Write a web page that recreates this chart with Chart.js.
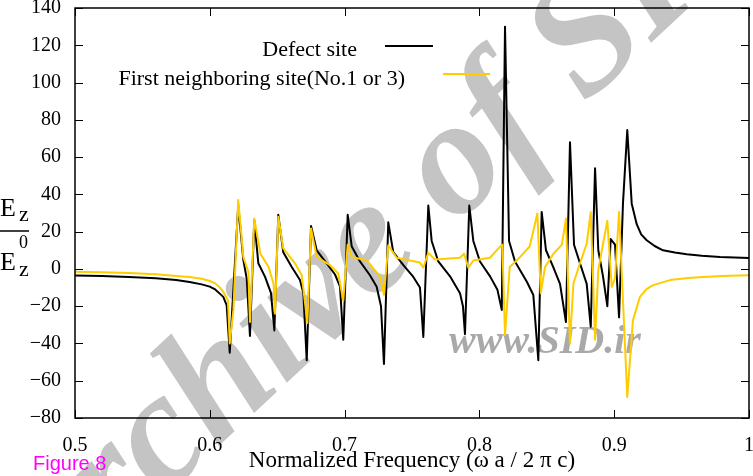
<!DOCTYPE html>
<html>
<head>
<meta charset="utf-8">
<script src="https://cdn.jsdelivr.net/npm/chart.js@4.4.1/dist/chart.umd.min.js"></script>
<style>
  html, body { margin: 0; padding: 0; background: #fff; }
  #wrap { position: relative; width: 753px; height: 476px; }
</style>
</head>
<body>
<div id="wrap"><canvas id="c" width="753" height="476"></canvas></div>
<script>
// Defect site (black)
const defectFreq = [0.5, 0.52, 0.54, 0.56, 0.575, 0.585, 0.594, 0.6, 0.604, 0.607, 0.61, 0.6125, 0.6148, 0.6211, 0.6249, 0.6274, 0.6298,
  0.633, 0.636, 0.641, 0.6454, 0.6479, 0.6508, 0.6545, 0.6608, 0.6669, 0.6694, 0.6719, 0.6751, 0.6793, 0.6867, 0.6929,
  0.6966, 0.699, 0.7023, 0.7053, 0.7114, 0.7188, 0.7238, 0.727, 0.7292, 0.7324, 0.7361, 0.7436, 0.751, 0.7559, 0.7584,
  0.7621, 0.7646, 0.7695, 0.7782, 0.7856, 0.7878, 0.7893, 0.7925, 0.7955, 0.8004, 0.8079, 0.8133, 0.8166, 0.819, 0.822,
  0.8264, 0.8353, 0.84, 0.8437, 0.8462, 0.8494, 0.8548, 0.8598, 0.8642, 0.8672, 0.8702, 0.8746, 0.8796, 0.8826, 0.8858,
  0.8882, 0.8917, 0.8949, 0.8974, 0.9006, 0.9036, 0.9065, 0.9097, 0.913, 0.9167, 0.92, 0.9241, 0.93, 0.9362, 0.945, 0.9538, 0.965, 0.9785, 1.0];
const defectEz = [-3.5, -3.8, -4.3, -5, -6, -7, -8.3, -9.5, -11, -13, -15, -19.5, -45, 34, 4.7, -5.2, -36,
  26, 3, -4.3, -13, -33, 29, 9, 1, -6, -13, -49, 23, 10, 3, -3,
  -9.5, -38, 29, 12, 4, -3.4, -9.6, -20, -51, 25, 9, 2, -4.3, -10, -36.5,
  34, 15, 4, -4, -13, -20, -35, 34, 15, 4, -4, -11, -22, 130, 15,
  4, -7, -14, -49, 30.6, 10, 1, -8, -28.5, 68, 13, 3, -8, -31, 54,
  10, -4, -20, 16, 13, -26, 35, 74.5, 35, 24, 18.5, 15.4, 12.3, 10, 8.8, 7.9, 7.1, 6.4, 5.9];

// First neighboring site (yellow)
const neighFreq = [0.5, 0.52, 0.54, 0.56, 0.575, 0.585, 0.594, 0.6, 0.604, 0.607, 0.61, 0.6135, 0.6148, 0.6175, 0.6211, 0.6249, 0.6286,
  0.6298, 0.633, 0.6375, 0.6436, 0.6473, 0.6484, 0.6508, 0.6545, 0.6632, 0.6682, 0.6724, 0.6751, 0.6793, 0.6892, 0.6953,
  0.699, 0.7023, 0.7053, 0.7164, 0.7263, 0.7292, 0.7324, 0.7386, 0.7559, 0.7584, 0.7621, 0.7671, 0.7856, 0.7886, 0.7918,
  0.7955, 0.8079, 0.8153, 0.817, 0.819, 0.8225, 0.8284, 0.8373, 0.843, 0.8455, 0.8487, 0.8548, 0.8612, 0.8642, 0.8672,
  0.8697, 0.8746, 0.8796, 0.8826, 0.8858, 0.8882, 0.8917, 0.8949, 0.8982, 0.9006, 0.9036, 0.9097, 0.9139, 0.9191, 0.924, 0.9288,
  0.9414, 0.955, 0.9659, 0.98, 1.0];
const neighEz = [-1.5, -1.8, -2.2, -2.9, -3.8, -4.4, -5.3, -6.5, -7.8, -9.6, -12.3, -17, -40, -22, 37, 6.4, -1.6,
  -28.5, 27, 8.2, 1, -8, -24, 28, 11, 3, -3.4, -29, 21.7, 6.4, 2, -2.5,
  -17, 13, 6.4, 4.7, -4.3, -14, 12.7, 6, 3.4, 0.7, 8.6, 5, 6, 8.2, 0.7,
  4.5, 6, 12, 13, -35.6, 1, 5, 12, 29.7, -13, 1, 8, 13, 27, -40,
  -8, 3, 13.5, 30.6, -38, -0.5, 13.5, 25.8, -9.7, -5, 30.6, -68.7, -27.6, -15, -10.8, -8.7,
  -6, -4.9, -4.3, -3.8, -3.4];

const xTicks = [0.5, 0.6, 0.7, 0.8, 0.9, 1];
const yTicks = [-80, -60, -40, -20, 0, 20, 40, 60, 80, 100, 120, 140];

const serif = '"Liberation Serif", "Times New Roman", serif';

const toPoints = (xs, ys) => xs.map((x, i) => ({ x: x, y: ys[i] }));

// gray "Archive of SID" watermark, behind everything
const watermark = {
  id: 'watermark',
  beforeDraw(chart) {
    const ctx = chart.ctx;
    ctx.save();
    ctx.fillStyle = '#c4c4c4';
    ctx.font = 'italic bold 165px ' + serif;
    ctx.translate(163, 498);
    ctx.rotate(-43 * Math.PI / 180);
    const lead = ctx.measureText('Ar').width;
    ctx.fillText('Archive of SID', -lead, 0);
    ctx.restore();

    ctx.save();
    ctx.fillStyle = '#a9a9a9';
    ctx.font = 'italic bold 40px ' + serif;
    ctx.fillText('www.SID.ir', 449, 353);
    ctx.restore();
  }
};

// border, inward ticks on all four sides, legend and y label
const frame = {
  id: 'frame',
  afterDatasetsDraw(chart) {
    const ctx = chart.ctx;
    const a = chart.chartArea;
    const xs = chart.scales.x, ys = chart.scales.y;
    ctx.save();
    ctx.strokeStyle = '#000';
    ctx.lineWidth = 1;
    ctx.beginPath();
    xTicks.forEach(v => {
      const px = Math.round(xs.getPixelForValue(v)) + 0.5;
      ctx.moveTo(px, a.bottom); ctx.lineTo(px, a.bottom - 8);
      ctx.moveTo(px, a.top); ctx.lineTo(px, a.top + 8);
    });
    yTicks.forEach(v => {
      const py = Math.round(ys.getPixelForValue(v)) + 0.5;
      ctx.moveTo(a.left, py); ctx.lineTo(a.left + 8, py);
      ctx.moveTo(a.right, py); ctx.lineTo(a.right - 8, py);
    });
    ctx.stroke();
    ctx.lineWidth = 1.5;
    ctx.strokeRect(a.left, a.top, a.right - a.left, a.bottom - a.top);

    // legend
    ctx.font = '22px ' + serif;
    ctx.fillStyle = '#000';
    ctx.textAlign = 'right';
    ctx.textBaseline = 'alphabetic';
    const ds = chart.data.datasets;
    ctx.fillText(ds[0].label, 357, 56);
    ctx.fillText(ds[1].label, 405, 85);
    ctx.lineWidth = 2;
    ctx.strokeStyle = ds[0].borderColor;
    ctx.beginPath(); ctx.moveTo(385, 46); ctx.lineTo(433, 46); ctx.stroke();
    ctx.strokeStyle = ds[1].borderColor;
    ctx.beginPath(); ctx.moveTo(443, 74); ctx.lineTo(490, 74); ctx.stroke();

    // y label  Ez / Ez0
    ctx.textAlign = 'left';
    ctx.font = '26px ' + serif;
    ctx.fillText('E', 0, 216);
    ctx.fillText('E', 0, 270);
    ctx.font = '22px ' + serif;
    ctx.fillText('z', 19, 221);
    ctx.fillText('z', 19, 276);
    ctx.font = '18px ' + serif;
    ctx.fillText('0', 19, 248);
    ctx.lineWidth = 1.5;
    ctx.strokeStyle = '#000';
    ctx.beginPath(); ctx.moveTo(0, 231); ctx.lineTo(29, 231); ctx.stroke();

    // figure tag
    ctx.fillStyle = '#ff00ff';
    ctx.font = '20px "Liberation Sans", Arial, sans-serif';
    ctx.fillText('Figure 8', 33, 470);
    ctx.restore();
  }
};

new Chart(document.getElementById('c'), {
  type: 'line',
  data: {
    datasets: [
      {
        label: 'Defect site',
        data: toPoints(defectFreq, defectEz),
        borderColor: '#000000',
        borderWidth: 2,
        pointRadius: 0,
        tension: 0,
        borderJoinStyle: 'round',
        order: 2
      },
      {
        label: 'First neighboring site(No.1 or 3)',
        data: toPoints(neighFreq, neighEz),
        borderColor: '#ffcc00',
        borderWidth: 2,
        pointRadius: 0,
        tension: 0,
        borderJoinStyle: 'round',
        order: 1
      }
    ]
  },
  options: {
    responsive: false,
    animation: false,
    events: [],
    layout: { padding: { top: 8, right: 4, left: 0, bottom: 0 } },
    plugins: { legend: { display: false }, tooltip: { enabled: false } },
    scales: {
      x: {
        type: 'linear',
        min: 0.5,
        max: 1,
        grid: { display: false },
        border: { display: false },
        afterBuildTicks: s => { s.ticks = xTicks.map(v => ({ value: v })); },
        afterFit: s => { s.height = 58; s.paddingLeft = 0; s.paddingRight = 0; },
        ticks: {
          color: '#000',
          padding: 8,
          maxRotation: 0,
          font: { family: serif, size: 20 },
          callback: v => String(Number(v.toFixed(1)))
        },
        title: {
          display: true,
          text: 'Normalized Frequency (ω a / 2 π c)',
          color: '#000',
          font: { family: serif, size: 23 },
          padding: { top: 0, bottom: 1 }
        }
      },
      y: {
        min: -80,
        max: 140,
        grid: { display: false },
        border: { display: false },
        afterBuildTicks: s => { s.ticks = yTicks.map(v => ({ value: v })); },
        afterFit: s => { s.width = 75; s.paddingTop = 0; s.paddingBottom = 0; },
        ticks: {
          color: '#000',
          padding: 6,
          font: { family: serif, size: 20 },
          callback: v => String(v).replace('-', '\u2212')
        }
      }
    }
  },
  plugins: [watermark, frame]
});
</script>
</body>
</html>
